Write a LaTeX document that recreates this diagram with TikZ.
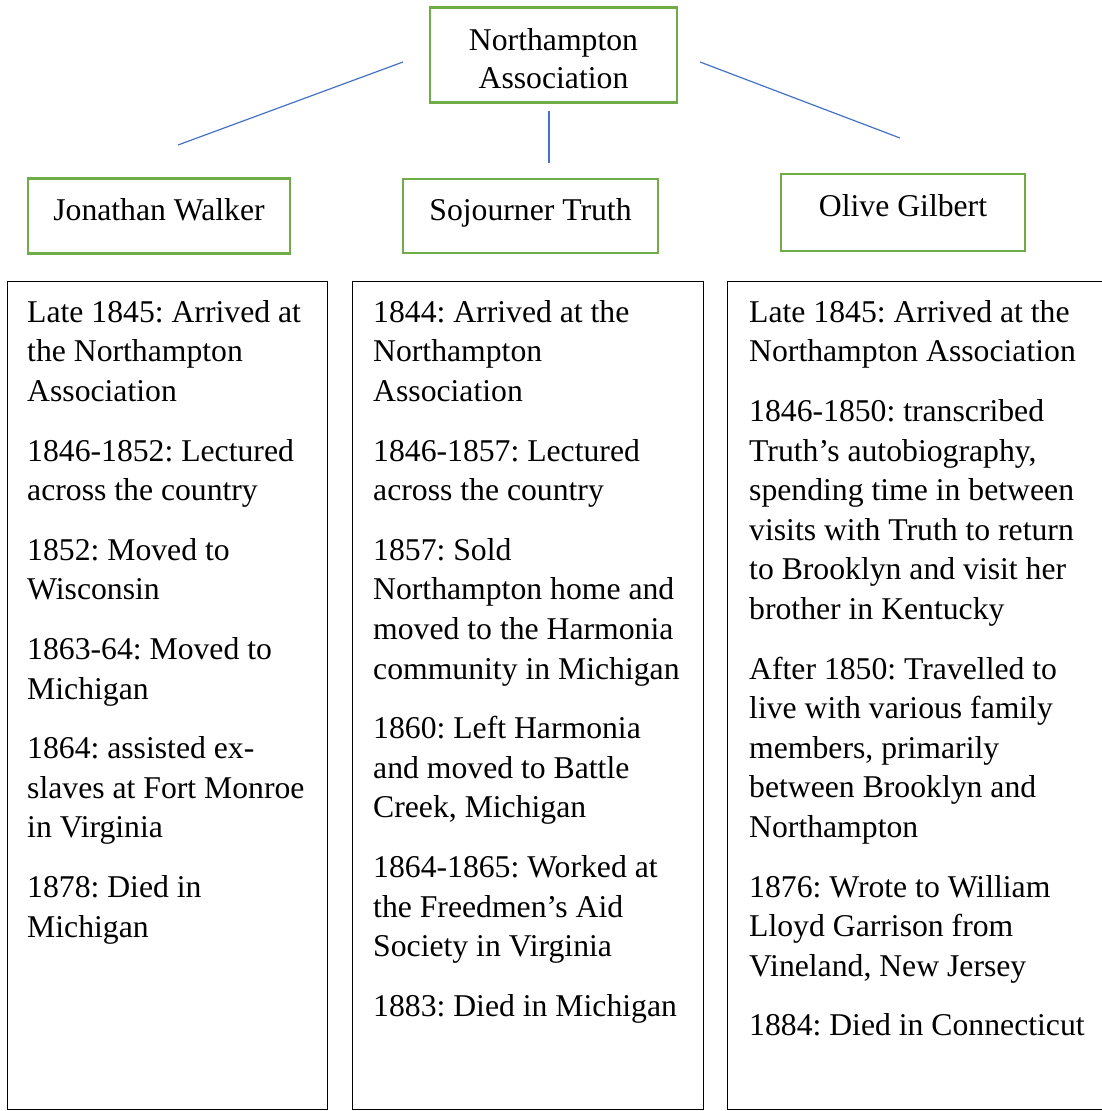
\documentclass[tikz,border=0pt]{standalone}
\usepackage{fontspec}
\setmainfont{Liberation Serif}
\usetikzlibrary{positioning}
\definecolor{boxgreen}{HTML}{70AD47}
\definecolor{linkblue}{HTML}{4472C4}
\newcommand{\pgap}{\\[20pt]}
\frenchspacing

\begin{document}
\begin{tikzpicture}[x=1pt, y=-1pt,
      hubbox/.style={draw=boxgreen, line width=2.6pt, align=center, inner sep=0pt,
                     font=\fontsize{31.7}{38}\selectfont},
      person/.style={draw=boxgreen, line width=2.6pt, inner sep=0pt, text height=22pt,
                     text depth=14pt, font=\fontsize{31.7}{37}\selectfont},
      listbox/.style={draw, line width=1.3pt, inner sep=0pt, anchor=north west},
      listtext/.style={align=left, inner sep=0pt, font=\fontsize{31.7}{39.6}\selectfont},
      link/.style={draw=linkblue, line width=1.2pt}]
    \useasboundingbox (0,0) rectangle (1102,1111);
    % top of the tree
    \node[hubbox, minimum width=247pt, minimum height=95pt] (na) at (553.5,55)
      {\rule{0pt}{30pt}Northampton\\Association};
    \node[person, minimum width=262pt, minimum height=75pt] (jw) at (159,216) {Jonathan Walker};
    \node[person, minimum width=255pt, minimum height=74pt] (st) at (530.5,216) {Sojourner Truth};
    \node[person, minimum width=244pt, minimum height=77pt] (og) at (903,212.5) {Olive Gilbert};
    \coordinate (nal) at (403,62);  \coordinate (jwtop) at (178,145);
    \coordinate (nab) at (549,111); \coordinate (sttop) at (549,163);
    \coordinate (nar) at (700,62);  \coordinate (ogtop) at (900,138);
    \draw[link] (nal) -- (jwtop); \draw[link] (nab) -- (sttop); \draw[link] (nar) -- (ogtop);
    % timelines
    \node[listbox, minimum width=320pt, minimum height=828pt] (jwlist) at (7,281) {};
    \node[listbox, minimum width=351pt, minimum height=828pt] (stlist) at (352,281) {};
    \node[listbox, minimum width=390pt, minimum height=828pt] (oglist) at (727,281) {};
    \node[listtext, below right=19pt and 20pt of jwlist.north west] (jwtext) {Late 1845: Arrived at\\
      the Northampton\\
      Association\pgap
      1846-1852: Lectured\\
      across the country\pgap
      1852: Moved to\\
      Wisconsin\pgap
      1863-64: Moved to\\
      Michigan\pgap
      1864: assisted ex-\\
      slaves at Fort Monroe\\
      in Virginia\pgap
      1878: Died in\\
      Michigan};
    \node[listtext, below right=19pt and 21pt of stlist.north west] (sttext) {1844: Arrived at the\\
      Northampton\\
      Association\pgap
      1846-1857: Lectured\\
      across the country\pgap
      1857: Sold\\
      Northampton home and\\
      moved to the Harmonia\\
      community in Michigan\pgap
      1860: Left Harmonia\\
      and moved to Battle\\
      Creek, Michigan\pgap
      1864-1865: Worked at\\
      the Freedmen’s Aid\\
      Society in Virginia\pgap
      1883: Died in Michigan};
    \node[listtext, below right=19pt and 22pt of oglist.north west] (ogtext) {Late 1845: Arrived at the\\
      Northampton Association\pgap
      1846-1850: transcribed\\
      Truth’s autobiography,\\
      spending time in between\\
      visits with Truth to return\\
      to Brooklyn and visit her\\
      brother in Kentucky\pgap
      After 1850: Travelled to\\
      live with various family\\
      members, primarily\\
      between Brooklyn and\\
      Northampton\pgap
      1876: Wrote to William\\
      Lloyd Garrison from\\
      Vineland, New Jersey\pgap
      1884: Died in Connecticut};
  \end{tikzpicture}
\end{document}
